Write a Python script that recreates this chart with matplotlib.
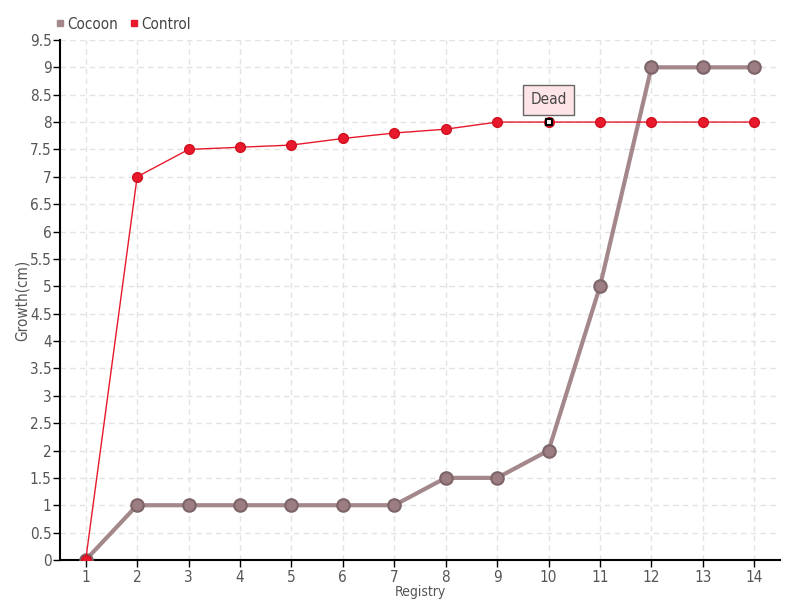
import matplotlib
matplotlib.use("Agg")
import matplotlib.pyplot as plt
from matplotlib.lines import Line2D
import numpy as np

registry = list(range(1, 15))
cocoon = [0, 1, 1, 1, 1, 1, 1, 1.5, 1.5, 2, 5, 9, 9, 9]
control = [0, 7, 7.5, 7.54, 7.58, 7.7, 7.8, 7.87, 8, 8, 8, 8, 8, 8]
yticks = [0, 0.5, 1, 1.5, 2, 2.5, 3, 3.5, 4, 4.5, 5, 5.5, 6, 6.5, 7, 7.5, 8, 8.5, 9, 9.5]
annot_idx = 9
annot_text = "Dead"

plt.rcParams['font.family'] = ['DejaVu Sans']
plt.rcParams['font.stretch'] = 'condensed'

fig = plt.figure(figsize=(8, 6), dpi=100)
ax = fig.add_axes([0.075, 0.0667, 0.9, 0.8667])

coc_col = '#a3878b'
coc_edge = '#7d6468'
ctl_col = '#e8192c'

ax.plot(registry, cocoon, color=coc_col, lw=3, marker='o', ms=9,
        markerfacecolor='#9b7d82', markeredgecolor=coc_edge, markeredgewidth=1.5, zorder=3)
ax.plot(registry, control, color=ctl_col, lw=1, marker='o', ms=7,
        markerfacecolor=ctl_col, markeredgecolor='#d0101f', zorder=4)
ax.plot([registry[annot_idx]], [control[annot_idx]], marker='s', ms=5,
        markerfacecolor='white', markeredgecolor='black', markeredgewidth=1.5, zorder=5, ls='none')

ax.annotate(annot_text, xy=(registry[annot_idx], control[annot_idx]), xytext=(0, 16),
            textcoords='offset points', ha='center', va='center', fontsize=11, color='#444444',
            bbox=dict(boxstyle='square,pad=0.5', fc='#fde4e6', ec='#666666', lw=1),
            zorder=6)

ax.set_xlim(0.5, 14.5)
ax.set_ylim(0, 9.5)
ax.set_xticks(registry)
ax.set_xticklabels([str(r) for r in registry])
ax.set_yticks(yticks)
ax.set_yticklabels([f"{t:g}" for t in yticks])
ax.tick_params(labelsize=11, labelcolor='#555555', color='black', length=5, width=1)
ax.tick_params(axis='x', pad=2)
ax.tick_params(axis='y', pad=1)
for s in ['top', 'right']:
    ax.spines[s].set_visible(False)
for s in ['left', 'bottom']:
    ax.spines[s].set_color('black')
    ax.spines[s].set_linewidth(1.5)
ax.grid(True, color='#e3e3e3', ls=(0, (4, 3)), lw=1)
ax.set_axisbelow(True)

ax.set_xlabel('Registry', fontsize=10, color='#555555', labelpad=0)
ax.set_ylabel('Growth(cm)', fontsize=11, color='#555555', labelpad=0)

handles = [Line2D([], [], ls='none', marker='s', ms=5, color=coc_col),
           Line2D([], [], ls='none', marker='s', ms=5, color=ctl_col)]
fig.legend(handles, ['Cocoon', 'Control'], loc='upper left', bbox_to_anchor=(0.05, 0.995),
           ncol=2, frameon=False, fontsize=11, handletextpad=0.1, columnspacing=0.6,
           handlelength=0.8, labelcolor='#444444')

fig.savefig('out.png', dpi=100)
